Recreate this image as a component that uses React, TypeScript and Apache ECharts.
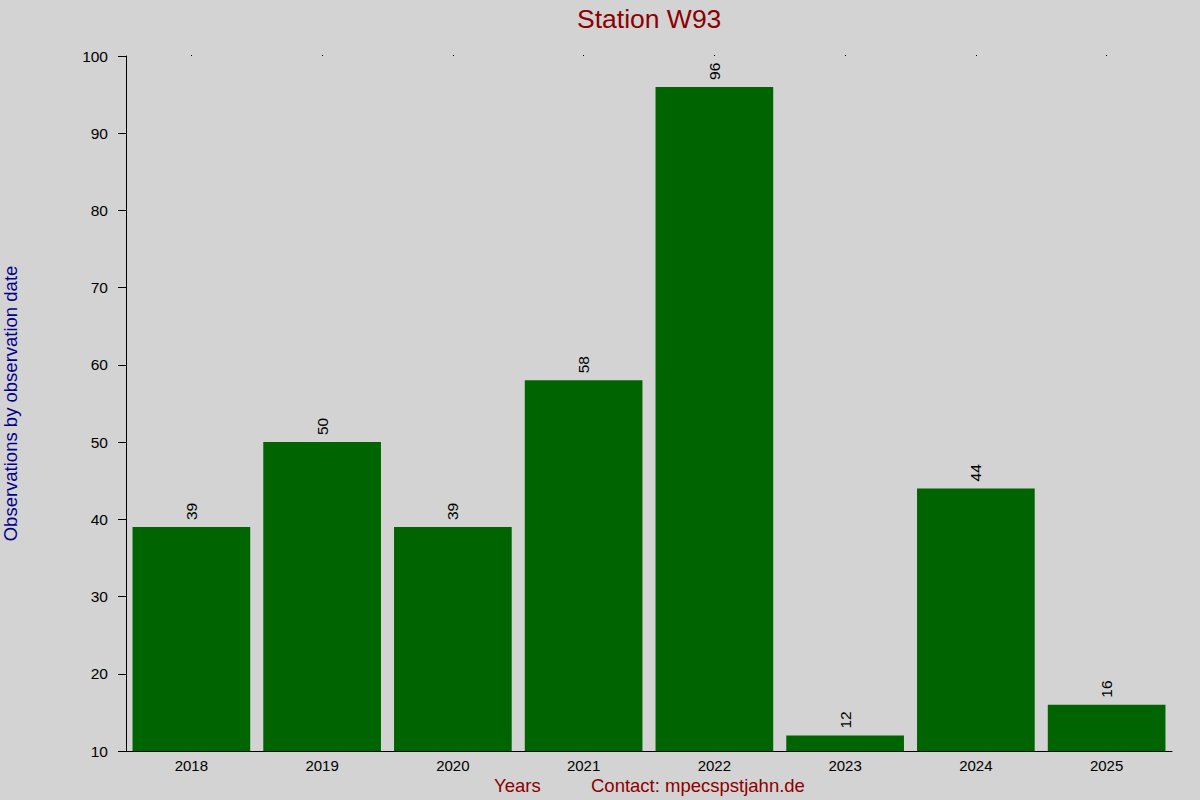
import * as echarts from 'echarts';
import { useEffect, useRef } from 'react';

const years = ['2018', '2019', '2020', '2021', '2022', '2023', '2024', '2025'];
const observations = [39, 50, 39, 58, 96, 12, 44, 16];

const FONT = 'Liberation Sans, Arial, sans-serif';

const App = () => {
  const chartRef = useRef<HTMLDivElement>(null);

  useEffect(() => {
    if (!chartRef.current) return;
    const chart = echarts.init(chartRef.current, undefined, { renderer: 'svg' });

    const option: echarts.EChartsOption = {
      animation: false,
      backgroundColor: '#d3d3d3',
      textStyle: { fontFamily: FONT },
      title: {
        text: 'Station W93',
        left: 572,
        top: 0,
        textStyle: { color: '#8b0000', fontSize: 26.5, fontWeight: 'normal', fontFamily: FONT },
      },
      grid: { left: 126, right: 28, top: 56, bottom: 49, outerBoundsMode: 'none' } as any,
      xAxis: [
        {
          type: 'category',
          data: years,
          axisLine: { lineStyle: { color: '#000', width: 1 } },
          axisTick: { show: false },
          axisLabel: { color: '#000', fontSize: 15, margin: 7 },
        },
        {
          type: 'category',
          data: years,
          position: 'top',
          axisLine: { show: false },
          axisTick: { show: true, alignWithLabel: true, length: 1, lineStyle: { color: '#000' } },
          axisLabel: { show: false },
        },
      ],
      yAxis: {
        type: 'value',
        min: 10,
        max: 100,
        interval: 10,
        name: 'Observations by observation date',
        nameLocation: 'middle',
        nameGap: 106,
        nameTextStyle: { color: '#00008b', fontSize: 18.5 },
        axisLine: { show: true, lineStyle: { color: '#000', width: 1 } },
        axisTick: { show: true, length: 8, lineStyle: { color: '#000' } },
        axisLabel: { color: '#000', fontSize: 15.5, margin: 18 },
        splitLine: { show: false },
      },
      series: [
        {
          type: 'bar',
          data: observations,
          barCategoryGap: '10%',
          itemStyle: { color: '#006400' },
          label: {
            show: true,
            position: 'top',
            rotate: 90,
            align: 'left',
            verticalAlign: 'middle',
            distance: 7,
            color: '#000',
            fontSize: 15.5,
          },
        },
      ],
      graphic: [
        {
          type: 'text',
          left: 494,
          top: 776,
          style: { text: 'Years', fill: '#8b0000', fontSize: 18.5, fontFamily: FONT },
        },
        {
          type: 'text',
          left: 591,
          top: 776,
          style: { text: 'Contact: mpecspstjahn.de', fill: '#8b0000', fontSize: 18.5, fontFamily: FONT },
        },
      ],
    };

    chart.setOption(option);
    const handleResize = () => chart.resize();
    window.addEventListener('resize', handleResize);
    return () => {
      window.removeEventListener('resize', handleResize);
      chart.dispose();
    };
  }, []);

  return <div ref={chartRef} style={{ width: 1200, height: 800, position: 'absolute', left: 0, top: 0 }} />;
};

export default App;
